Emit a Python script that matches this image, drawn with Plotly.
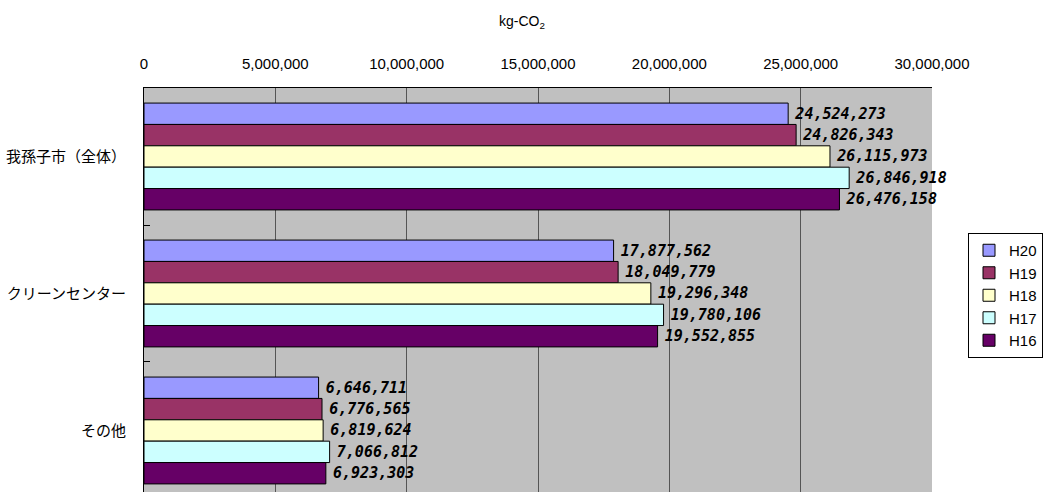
import plotly.graph_objects as go

# CO2 emissions (kg-CO2) by facility and fiscal year
categories = ["我孫子市（全体）", "クリーンセンター", "その他"]
years = ["H20", "H19", "H18", "H17", "H16"]
h20 = [24524273, 17877562, 6646711]
h19 = [24826343, 18049779, 6776565]
h18 = [26115973, 19296348, 6819624]
h17 = [26846918, 19780106, 7066812]
h16 = [26476158, 19552855, 6923303]
x_ticks = [0, 5000000, 10000000, 15000000, 20000000, 25000000, 30000000]

series = [h20, h19, h18, h17, h16]
colors = ["#9999FF", "#993366", "#FFFFCC", "#CCFFFF", "#660066"]

W, H = 1043, 492
L, R, T, B = 144, 932, 88, 492

fig = go.Figure()
for name, vals, col in zip(years, series, colors):
    fig.add_trace(go.Bar(
        y=categories, x=vals, name=name, orientation="h",
        marker=dict(color=col, line=dict(color="#000000", width=1)),
        texttemplate="<span style='font-family:Liberation Sans'>\u00a0</span>%{x:,}",
        textposition="outside",
        textfont=dict(family="DejaVu Sans Mono", size=15, color="#000000",
                      weight="bold", style="italic"),
        cliponaxis=False,
    ))

fig.update_layout(
    width=W, height=H,
    margin=dict(l=L, r=W - R, t=T, b=H - B, pad=0, autoexpand=False),
    paper_bgcolor="#FFFFFF", plot_bgcolor="#C0C0C0",
    barmode="group", bargap=0.22, bargroupgap=0,
    font=dict(family="Liberation Sans, Noto Sans CJK JP", size=15, color="#000000"),
    showlegend=True,
    legend=dict(
        xref="container", yref="container",
        x=968 / W, y=(H - 233) / H, xanchor="left", yanchor="top",
        traceorder="normal", bgcolor="#FFFFFF", bordercolor="#000000", borderwidth=1,
        font=dict(family="Liberation Sans", size=15, color="#000000"),
        itemwidth=30, tracegroupgap=0,
    ),
    annotations=[dict(
        text="kg-CO<sub>2</sub>", xref="paper", yref="paper",
        x=(522 - L) / (R - L), y=(B - 22) / (B - T), xanchor="center", yanchor="middle",
        showarrow=False, font=dict(family="Liberation Sans", size=14, color="#000000"),
    )],
)

fig.update_xaxes(
    side="top", range=[0, 30000000], tickvals=x_ticks, tickformat=",",
    showgrid=True, gridcolor="#555555", gridwidth=1,
    zeroline=False, showline=True, linecolor="#000000", linewidth=1,
    ticks="", ticklabelstandoff=12,
    tickfont=dict(family="Liberation Sans", size=15, color="#000000"),
    fixedrange=True,
)
fig.update_yaxes(
    type="category", categoryorder="array", categoryarray=categories,
    range=[2.449, -0.5], autorange=False,
    showgrid=False, zeroline=False,
    showline=True, linecolor="#000000", linewidth=1,
    ticks="inside", tickson="boundaries", ticklen=6, tickcolor="#000000",
    ticklabelstandoff=14,
    tickfont=dict(family="Noto Sans CJK JP", size=15, color="#000000"),
    fixedrange=True,
)

fig.write_html("out.html", config={"displayModeBar": False})
